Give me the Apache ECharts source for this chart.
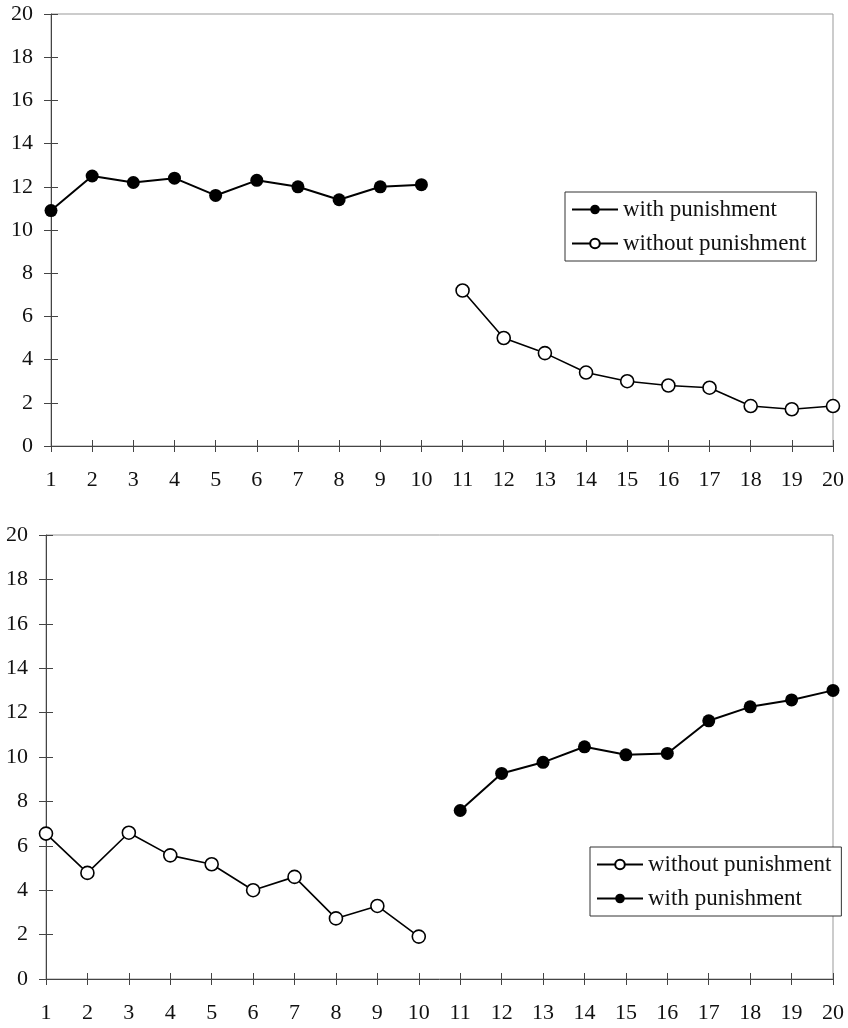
<!DOCTYPE html>
<html>
<head>
<meta charset="utf-8">
<script src="https://cdn.jsdelivr.net/npm/echarts@6/dist/echarts.min.js"></script>
<style>html,body{margin:0;padding:0;background:#fff;}#c{width:848px;height:1028px;}</style>
</head>
<body>
<div id="c"></div>
<script>
var periods = ['1','2','3','4','5','6','7','8','9','10','11','12','13','14','15','16','17','18','19','20'];
var yTicks = [0,2,4,6,8,10,12,14,16,18,20];
// Top panel
var topWith = [10.9,12.5,12.2,12.4,11.6,12.3,12.0,11.4,12.0,12.1,null,null,null,null,null,null,null,null,null,null];
var topWithout = [null,null,null,null,null,null,null,null,null,null,7.2,5.0,4.3,3.4,3.0,2.8,2.7,1.85,1.7,1.85];
// Bottom panel
var botWithout = [6.55,4.78,6.59,5.57,5.17,4.0,4.6,2.73,3.29,1.91,null,null,null,null,null,null,null,null,null,null];
var botWith = [null,null,null,null,null,null,null,null,null,null,7.59,9.26,9.76,10.46,10.1,10.16,11.63,12.26,12.57,13.0];

var FONT = 'Liberation Serif';
var AX = '#444';
function xAx(g, inner) {
  return {
    type: 'category', gridIndex: g, data: periods, boundaryGap: false, position: 'bottom',
    axisLine: {show: !inner, lineStyle: {color: AX, width: 1}},
    axisTick: {show: true, inside: inner, length: 6, alignWithLabel: true, lineStyle: {color: AX}},
    axisLabel: {show: !inner, color: '#111', fontFamily: FONT, fontSize: 22, margin: 23, interval: 0},
    splitLine: {show: false}
  };
}
function yAx(g, inner) {
  return {
    type: 'value', gridIndex: g, min: yTicks[0], max: yTicks[yTicks.length-1], interval: 2, position: 'left',
    axisLine: {show: !inner, lineStyle: {color: AX, width: 1}},
    axisTick: {show: true, inside: inner, length: 7, lineStyle: {color: AX}},
    axisLabel: {show: !inner, color: '#111', fontFamily: FONT, fontSize: 22, margin: 18},
    splitLine: {show: false}
  };
}
var filled = {
  type: 'line', symbol: 'circle', symbolSize: 13, connectNulls: false,
  lineStyle: {color: '#000', width: 2}, itemStyle: {color: '#000', borderColor: '#000', borderWidth: 0}
};
var open = {
  type: 'line', symbol: 'circle', symbolSize: 13, connectNulls: false,
  lineStyle: {color: '#000', width: 1.6}, itemStyle: {color: '#fff', borderColor: '#000', borderWidth: 1.6}
};
function mk(base, name, xi, yi, data) {
  var s = JSON.parse(JSON.stringify(base));
  s.name = name; s.xAxisIndex = xi; s.yAxisIndex = yi; s.data = data; s.animation = false; s.z = 5;
  return s;
}
var legendBase = {
  orient: 'vertical', itemWidth: 46, itemHeight: 12, itemGap: 11,
  textStyle: {fontFamily: FONT, fontSize: 23, color: '#111'},
  borderColor: '#333', borderWidth: 1, padding: [6, 10, 6, 6], backgroundColor: '#fff', selectedMode: false
};
var chart = echarts.init(document.getElementById('c'));
chart.setOption({
  animation: false,
  backgroundColor: '#fff',
  grid: [
    {left: 51, right: 15, top: 14, bottom: 582, show: true, borderColor: '#999', borderWidth: 1},
    {left: 46, right: 15, top: 535, bottom: 49, show: true, borderColor: '#999', borderWidth: 1}
  ],
  xAxis: [xAx(0,false), xAx(1,false), xAx(0,true), xAx(1,true)],
  yAxis: [yAx(0,false), yAx(1,false), yAx(0,true), yAx(1,true)],
  legend: [
    Object.assign({}, legendBase, {left: 565, top: 192, data: ['with punishment','without punishment']}),
    Object.assign({}, legendBase, {left: 590, top: 847, data: ['without punishment','with punishment']})
  ],
  series: [
    mk(filled, 'with punishment', 0, 0, topWith),
    mk(open, 'without punishment', 0, 0, topWithout),
    mk(open, 'without punishment', 1, 1, botWithout),
    mk(filled, 'with punishment', 1, 1, botWith)
  ]
});
</script>
</body>
</html>
